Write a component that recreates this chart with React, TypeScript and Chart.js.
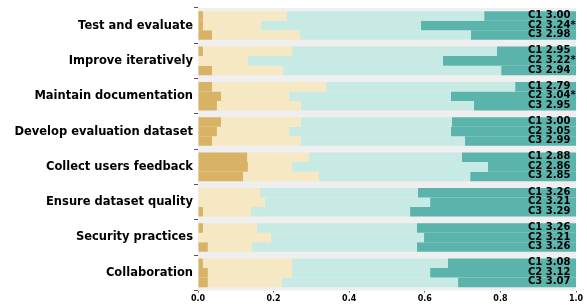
import React, { useEffect, useRef } from "react";
import { Chart, registerables } from "chart.js";

Chart.register(...registerables);

const categories = [
  "Test and evaluate",
  "Improve iteratively",
  "Maintain documentation",
  "Develop evaluation dataset",
  "Collect users feedback",
  "Ensure dataset quality",
  "Security practices",
  "Collaboration",
];

const cohorts = ["C1", "C2", "C3"];

// segment shares (level 1 = lowest .. level 4 = highest) per cohort
const c1Level1 = [0.013, 0.013, 0.037, 0.061, 0.13, 0.0, 0.013, 0.013];
const c1Level2 = [0.222, 0.236, 0.302, 0.211, 0.164, 0.164, 0.143, 0.236];
const c1Level3 = [0.522, 0.542, 0.5, 0.4, 0.404, 0.418, 0.423, 0.412];
const c1Level4 = [0.243, 0.209, 0.161, 0.328, 0.302, 0.418, 0.421, 0.339];

const c2Level1 = [0.013, 0.0, 0.061, 0.05, 0.132, 0.0, 0.0, 0.026];
const c2Level2 = [0.154, 0.132, 0.18, 0.191, 0.117, 0.177, 0.193, 0.223];
const c2Level3 = [0.423, 0.516, 0.428, 0.428, 0.518, 0.437, 0.405, 0.365];
const c2Level4 = [0.41, 0.352, 0.331, 0.331, 0.233, 0.386, 0.402, 0.386];

const c3Level1 = [0.037, 0.037, 0.05, 0.037, 0.119, 0.013, 0.026, 0.026];
const c3Level2 = [0.233, 0.188, 0.222, 0.235, 0.201, 0.127, 0.117, 0.196];
const c3Level3 = [0.452, 0.577, 0.458, 0.434, 0.4, 0.421, 0.436, 0.466];
const c3Level4 = [0.278, 0.198, 0.27, 0.294, 0.28, 0.439, 0.421, 0.312];

const c1Means = ["3.00", "2.95", "2.79", "3.00", "2.88", "3.26", "3.26", "3.08"];
const c2Means = ["3.24*", "3.22*", "3.04*", "3.05", "2.86", "3.21", "3.21", "3.12"];
const c3Means = ["2.98", "2.94", "2.95", "2.99", "2.85", "3.29", "3.26", "3.07"];

const xTicks = [0, 0.2, 0.4, 0.6, 0.8, 1.0];

const levelColors = ["#d8b365", "#f6e8c3", "#c7eae5", "#5ab4ac"];

const cohortLevels = [
  [c1Level1, c1Level2, c1Level3, c1Level4],
  [c2Level1, c2Level2, c2Level3, c2Level4],
  [c3Level1, c3Level2, c3Level3, c3Level4],
];
const cohortMeans = [c1Means, c2Means, c3Means];

export default function App() {
  const ref = useRef<HTMLCanvasElement | null>(null);

  useEffect(() => {
    if (!ref.current) return;
    Chart.defaults.font.family = "'DejaVu Sans'";

    const datasets: any[] = [];
    cohorts.forEach((c, ci) => {
      cohortLevels[ci].forEach((arr, li) => {
        datasets.push({
          label: `${c} L${li + 1}`,
          data: arr,
          backgroundColor: levelColors[li],
          borderWidth: 0,
          stack: c,
          barPercentage: 1,
          categoryPercentage: 0.81,
        });
      });
    });

    const bgPlugin = {
      id: "bg",
      beforeDatasetsDraw(chart: any) {
        const { ctx, chartArea } = chart;
        ctx.save();
        ctx.fillStyle = "#efefef";
        ctx.fillRect(
          chartArea.left,
          chartArea.top,
          chartArea.right - chartArea.left,
          chartArea.bottom - chartArea.top
        );
        ctx.restore();
      },
    };

    const labelPlugin = {
      id: "meanLabels",
      afterDatasetsDraw(chart: any) {
        const { ctx } = chart;
        const xs = chart.scales.x;
        ctx.save();
        ctx.fillStyle = "#000";
        ctx.font = "bold 10px 'DejaVu Sans'";
        ctx.textAlign = "left";
        ctx.textBaseline = "middle";
        cohorts.forEach((c, ci) => {
          const meta = chart.getDatasetMeta(ci * 4 + 3);
          meta.data.forEach((el: any, i: number) => {
            ctx.fillText(
              `${c} ${cohortMeans[ci][i]}`,
              xs.getPixelForValue(0.873),
              el.y - 0.5
            );
          });
        });
        ctx.restore();
      },
    };

    const chart = new Chart(ref.current, {
      type: "bar",
      data: { labels: categories, datasets },
      options: {
        indexAxis: "y",
        animation: false,
        responsive: false,
        maintainAspectRatio: false,
        layout: { padding: { left: 0, right: 11, top: 4, bottom: 0 } },
        plugins: { legend: { display: false }, tooltip: { enabled: false } },
        scales: {
          x: {
            stacked: true,
            min: 0,
            max: 1,
            afterBuildTicks(scale: any) {
              scale.ticks = xTicks.map((v) => ({ value: v }));
            },
            afterFit(scale: any) {
              scale.height = 14.5;
            },
            grid: {
              drawOnChartArea: false,
              drawTicks: true,
              tickLength: 2,
              color: "#555",
            },
            border: { display: false },
            ticks: {
              color: "#000",
              font: { size: 8, weight: "bold" },
              padding: 2,
              maxRotation: 0,
              callback: (v: any) => Number(v).toFixed(1),
            },
          },
          y: {
            stacked: true,
            afterFit(scale: any) {
              scale.width = 198;
            },
            grid: {
              drawOnChartArea: false,
              drawTicks: true,
              tickLength: 4,
              color: "#555",
            },
            border: { display: false },
            ticks: {
              color: "#000",
              font: { size: 11.5, weight: "bold" },
              padding: 1,
            },
          },
        },
      },
      plugins: [bgPlugin, labelPlugin],
    });

    return () => chart.destroy();
  }, []);

  return (
    <div style={{ position: "fixed", left: 0, top: 0, width: 587, height: 305, background: "#fff" }}>
      <canvas ref={ref} width={587} height={305} style={{ width: 587, height: 305 }} />
    </div>
  );
}
